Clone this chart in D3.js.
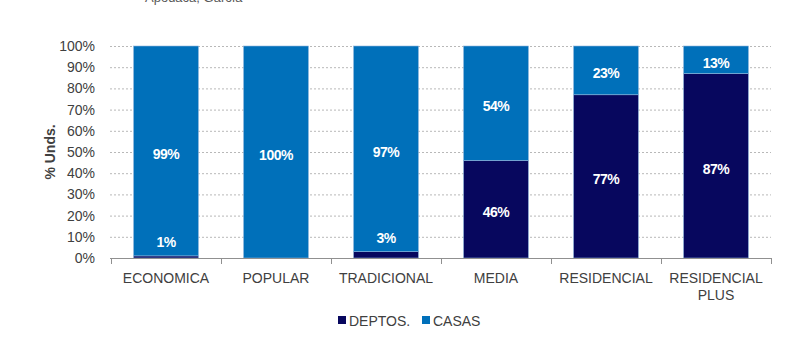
<!DOCTYPE html>
<html><head><meta charset="utf-8">
<script src="https://cdn.jsdelivr.net/npm/d3@7"></script>
<style>body{margin:0;background:#fff;} svg{display:block;font-family:"Liberation Sans",Arial,sans-serif;}</style>
</head><body>
<svg id="c" width="788" height="359"></svg>
<script>
const categories = ["ECONOMICA","POPULAR","TRADICIONAL","MEDIA","RESIDENCIAL","RESIDENCIAL PLUS"];
const deptos = [1, 0, 3, 46, 77, 87];
const casas = [99, 100, 97, 54, 23, 13];
const yTicks = [0,10,20,30,40,50,60,70,80,90,100];
const seriesNames = ["DEPTOS.","CASAS"];
const colors = ["#07075E","#0070BA"];

const svg = d3.select("#c");
const x = d3.scaleBand().domain(categories).range([111,771]).paddingInner(0.41).paddingOuter(0.205);
const y = d3.scaleLinear().domain([0,100]).range([258,46]);

// subtitle, cut off at the top edge as in the reference
svg.append("text").attr("x",145).attr("y",2).attr("font-size",13).attr("fill","#595959").text("Apodaca, García");

// gridlines
svg.append("g").selectAll("line").data(yTicks.filter(d=>d>0)).join("line")
  .attr("x1",110).attr("x2",771).attr("y1",d=>y(d)+0.5).attr("y2",d=>y(d)+0.5)
  .attr("stroke","#b8b8b8").attr("stroke-width",1).attr("stroke-dasharray","2,2");

// y labels
svg.append("g").selectAll("text").data(yTicks).join("text")
  .attr("x",95).attr("y",d=>y(d)).attr("dy","0.35em").attr("text-anchor","end")
  .attr("font-size",14).attr("fill","#404040").text(d=>d+"%");

svg.append("text").attr("transform","translate(50,152) rotate(-90)").attr("text-anchor","middle")
  .attr("dy","0.35em").attr("font-size",14).attr("font-weight","bold").attr("fill","#404040").text("% Unds.");

// stacked bars
const rows = categories.map((c,i)=>({cat:c, DEPTOS:deptos[i], CASAS:casas[i]}));
const stack = d3.stack().keys(["DEPTOS","CASAS"])(rows);
stack.forEach((s,si)=>{
  svg.append("g").selectAll("rect").data(s).join("rect")
    .attr("x",d=>x(d.data.cat)).attr("width",x.bandwidth())
    .attr("y",d=>y(d[1])).attr("height",d=>y(d[0])-y(d[1]))
    .attr("fill",colors[si]).attr("stroke","#8fb6dc").attr("stroke-width",d=>(d[1]-d[0])>0?0.6:0);
});
// labels
stack.forEach((s,si)=>{
  svg.append("g").selectAll("text").data(s.filter(d=>d[1]-d[0]>0)).join("text")
    .attr("x",d=>x(d.data.cat)+x.bandwidth()/2)
    .attr("y",d=>{const h=y(d[0])-y(d[1]); const c=(y(d[0])+y(d[1]))/2; return h<10 ? y(d[1])-14 : c+3;})
    .attr("dy","0.35em").attr("text-anchor","middle").attr("font-size",14).attr("font-weight","bold")
    .attr("fill","#fff").attr("letter-spacing","-0.5").text(d=>Math.round(d[1]-d[0])+"%");
});

// x axis
const ax = svg.append("g");
ax.append("line").attr("x1",110).attr("x2",771).attr("y1",258.5).attr("y2",258.5).attr("stroke","#909090");
const edges = [0,1,2,3,4,5,6].map(i=> i<6 ? x(categories[i]) - x.step()*x.paddingOuter() : x(categories[5]) - x.step()*x.paddingOuter() + x.step());
ax.selectAll("line.t").data(edges).join("line").attr("class","t")
  .attr("x1",d=>Math.round(d)+0.5).attr("x2",d=>Math.round(d)+0.5).attr("y1",258).attr("y2",264).attr("stroke","#909090");
categories.forEach(c=>{
  const words = c==="RESIDENCIAL PLUS" ? ["RESIDENCIAL","PLUS"] : [c];
  const t = svg.append("text").attr("x",x(c)+x.bandwidth()/2).attr("y",283).attr("text-anchor","middle")
    .attr("font-size",14).attr("fill","#404040");
  words.forEach((w,i)=>t.append("tspan").attr("x",x(c)+x.bandwidth()/2).attr("dy",i?17:0).text(w));
});

// legend
const lg = svg.append("g");
const lx = [338,422];
seriesNames.forEach((n,i)=>{
  lg.append("rect").attr("x",lx[i]).attr("y",316).attr("width",8).attr("height",8).attr("fill",colors[i]);
  lg.append("text").attr("x",lx[i]+11).attr("y",325.5).attr("font-size",14).attr("fill","#404040").text(n);
});
</script>
</body></html>
